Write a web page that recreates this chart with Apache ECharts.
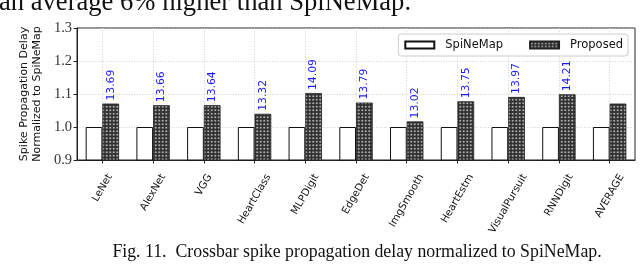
<!DOCTYPE html>
<html><head><meta charset="utf-8">
<script src="https://cdn.jsdelivr.net/npm/echarts@6/dist/echarts.min.js"></script>
<style>html,body{margin:0;padding:0;background:#fff}#c{width:640px;height:267px}</style>
</head><body><div id="c"></div>
<script>
const categories = ['LeNet','AlexNet','VGG','HeartClass','MLPDigit','EdgeDet','ImgSmooth','HeartEstm','VisualPursuit','RNNDigit','AVERAGE'];
const spinemap = [1,1,1,1,1,1,1,1,1,1,1];
const proposed = [1.071,1.066,1.066,1.040,1.103,1.074,1.017,1.078,1.091,1.099,1.071];
const barLabels = ['13.69','13.66','13.64','13.32','14.09','13.79','13.02','13.75','13.97','14.21',''];
const seriesNames = ['SpiNeMap','Proposed'];
const yMin = 0.9, yMax = 1.3, yStep = 0.1;
const yTitle = 'Spike Propagation Delay\nNormalized to SpiNeMap';
const topText = 'an average 6% higher than SpiNeMap.';
const caption = 'Fig. 11.  Crossbar spike propagation delay normalized to SpiNeMap.';

// dotted hatch pattern
const pc = document.createElement('canvas'); pc.width = 7; pc.height = 7;
const g = pc.getContext('2d');
g.fillStyle = '#303030'; g.fillRect(0,0,7,7);
g.fillStyle = '#a8a8a8';
[[1.75,1.75],[5.25,1.75],[1.75,5.25],[5.25,5.25]].forEach(function(p){g.beginPath();g.arc(p[0],p[1],1.1,0,Math.PI*2);g.fill();});

// rotated x label placement (centered under tick like matplotlib ha=center)
const mc = document.createElement('canvas').getContext('2d');
const xFont = 10.3;
mc.font = xFont + 'px "DejaVu Sans"';
const rich = {};
categories.forEach(function(c,i){
  const L = mc.measureText(c).width;
  const dy = 15 + 0.433 * L;
  rich['t'+i] = {fontFamily:'DejaVu Sans', fontSize:xFont, color:'#111', padding:[dy,1.732*dy,0,0]};
});

const chart = echarts.init(document.getElementById('c'), null, {renderer:'canvas'});
chart.setOption({
  animation:false,
  backgroundColor:'#fff',
  grid:{left:77,right:5,top:28,bottom:107,show:true,borderColor:'#222',borderWidth:1,backgroundColor:'transparent'},
  legend:{
    right:12, top:34, itemWidth:29, itemHeight:7, itemGap:26, icon:'rect',
    backgroundColor:'rgba(255,255,255,0.85)', borderColor:'#cccccc', borderWidth:1, borderRadius:3,
    padding:[5,5,5,6],
    textStyle:{fontFamily:'DejaVu Sans', fontSize:11.5, color:'#111', padding:[0,0,0,6]},
    data:seriesNames
  },
  xAxis:{
    type:'category', data:categories,
    axisLine:{show:true, lineStyle:{color:'#222',width:1}},
    axisTick:{show:true, alignWithLabel:true, length:3.5, lineStyle:{color:'#222'}},
    splitLine:{show:true, alignWithLabel:true, interval:0, lineStyle:{color:'#c4c4c4', width:0.8, type:[1,1.6]}},
    axisLabel:{interval:0, rotate:60, margin:0, align:'center', verticalAlign:'middle',
      formatter:function(v,i){return '{t'+i+'|'+v+'}';}, rich:rich}
  },
  yAxis:{
    type:'value', min:yMin, max:yMax, interval:yStep,
    name:yTitle, nameLocation:'middle', nameRotate:90, nameGap:23,
    nameTextStyle:{fontFamily:'DejaVu Sans', fontSize:11, color:'#111', lineHeight:12.5, align:'center'},
    axisLine:{show:true, lineStyle:{color:'#222',width:1}},
    axisTick:{show:true, length:3.5, lineStyle:{color:'#222'}},
    splitLine:{show:true, lineStyle:{color:'#c4c4c4', width:0.8, type:[1,1.6]}},
    axisLabel:{fontFamily:'Liberation Serif', fontSize:14.5, color:'#333', margin:5,
      formatter:function(v){return v.toFixed(1);}}
  },
  series:[
    {name:seriesNames[0], type:'bar', data:spinemap, barWidth:16.7, barGap:'0%',
     itemStyle:{color:'#ffffff', borderColor:'#111', borderWidth:1}},
    {name:seriesNames[1], type:'bar', data:proposed, barWidth:16.7, barGap:'0%',
     itemStyle:{color:{image:pc, repeat:'repeat'}, borderColor:'#222', borderWidth:0.8},
     label:{show:true, position:'top', rotate:90, align:'left', verticalAlign:'middle', distance:3,
       fontFamily:'DejaVu Sans', fontSize:10.8, color:'#1a1aff',
       formatter:function(p){return barLabels[p.dataIndex];}}}
  ],
  graphic:[
    {type:'text', x:-1, y:-10, style:{text:topText, font:'26.6px "Liberation Serif"', fill:'#111', verticalAlign:'top'}},
    {type:'text', x:357, y:252, style:{text:caption, font:'17.8px "Liberation Serif"', fill:'#111', align:'center', verticalAlign:'middle'}}
  ]
});
</script></body></html>
